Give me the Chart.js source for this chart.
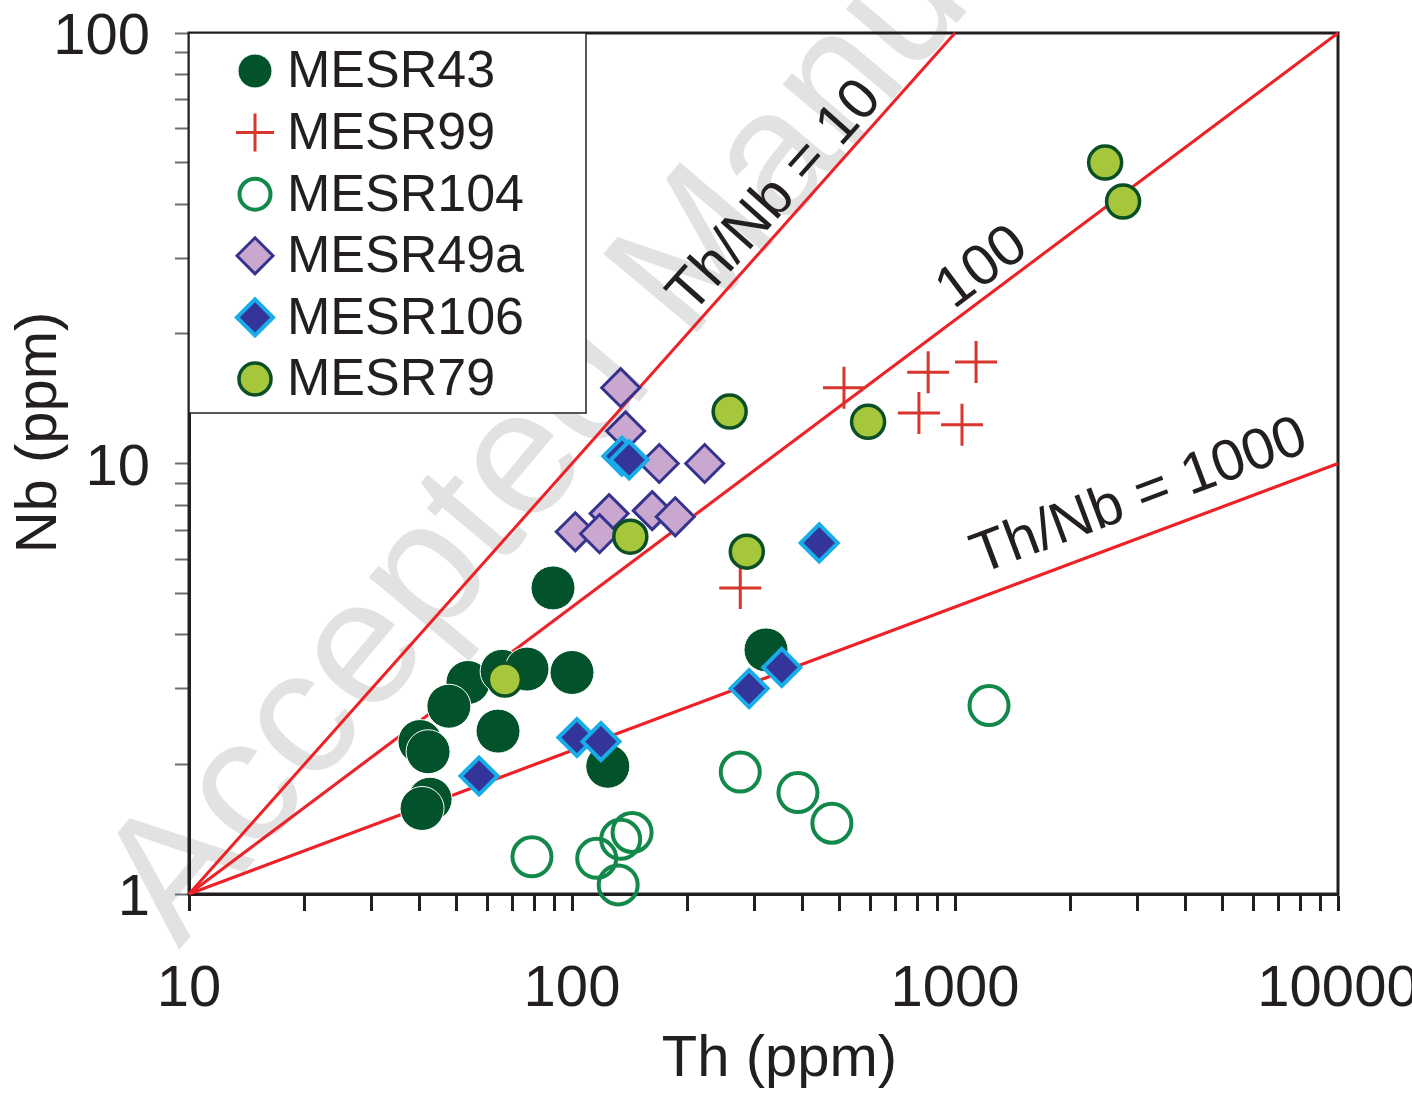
<!DOCTYPE html>
<html>
<head>
<meta charset="utf-8">
<title>Th vs Nb</title>
<script src="https://cdn.jsdelivr.net/npm/chart.js@4.4.1/dist/chart.umd.min.js"></script>
<style>
  html, body { margin: 0; padding: 0; background: #fff; }
  #wrap { width: 1412px; height: 1094px; }
</style>
</head>
<body>
<div id="wrap"><canvas id="thNbChart" width="1412" height="1094"></canvas></div>
<script>
// values: Th (ppm) and Nb (ppm)
const mesr43Th = [89.2, 53.5, 65.7, 76.3, 100, 47.7, 40.1, 42.1, 64.1, 42.6, 40.6, 124, 321];
const mesr43Nb = [5.14, 3.10, 3.29, 3.33, 3.27, 2.73, 2.26, 2.14, 2.39, 1.66, 1.58, 1.98, 3.69];

const mesr99Th = [513, 851, 1135, 805, 1043, 275];
const mesr99Nb = [15.0, 16.3, 17.2, 13.1, 12.3, 5.14];

const mesr104Th = [1227, 275, 389, 477, 78.6, 116, 134, 143.5, 132];
const mesr104Nb = [2.74, 1.92, 1.72, 1.46, 1.22, 1.21, 1.34, 1.39, 1.05];

const mesr49aTh = [134, 138, 169, 222, 102, 125, 118, 162, 186];
const mesr49aNb = [15.0, 11.9, 10.0, 10.0, 6.94, 7.65, 6.87, 7.77, 7.52];

const mesr106Th = [135, 141, 57.2, 103, 119, 290, 353, 442];
const mesr106Nb = [10.4, 10.2, 1.88, 2.31, 2.26, 3.00, 3.36, 6.54];

const mesr79Th = [258, 142, 286, 593, 66.8, 2466, 2747];
const mesr79Nb = [13.2, 6.76, 6.24, 12.5, 3.15, 50.0, 40.6];

// reference lines (end points)
const ratio10Th = [10, 1000];
const ratio10Nb = [1, 100];
const ratio100Th = [10, 10000];
const ratio100Nb = [1, 100];
const ratio1000Th = [10, 10000];
const ratio1000Nb = [1, 10];
const ratioLabels = ["Th/Nb = 10", "100", "Th/Nb = 1000"];

// axis ticks
const xTickValues = [10, 20, 30, 40, 50, 60, 70, 80, 90, 100, 200, 300, 400, 500, 600, 700, 800, 900,
  1000, 2000, 3000, 4000, 5000, 6000, 7000, 8000, 9000, 10000];
const xTickLabels = [10, 100, 1000, 10000];
const yTickValues = [1, 2, 3, 4, 5, 6, 7, 8, 9, 10, 20, 30, 40, 50, 60, 70, 80, 90, 100];
const yTickLabels = [1, 10, 100];
const xTitle = "Th (ppm)";
const yTitle = "Nb (ppm)";

const FONT = '"Liberation Sans", Arial, Helvetica, sans-serif';
const INK = "#231f20";
const LINE_RED = "#ee2127";

function toPoints(xs, ys) {
  return xs.map((x, i) => ({ x: x, y: ys[i] }));
}
function isLabelled(list, v) {
  return list.some((l) => Math.abs(l - v) < 1e-9);
}

function lineSet(xs, ys) {
  return {
    type: "line",
    data: toPoints(xs, ys),
    borderColor: LINE_RED,
    borderWidth: 3,
    pointRadius: 0,
    fill: false,
    order: 10,
    isRefLine: true,
  };
}

const datasets = [
  lineSet(ratio10Th, ratio10Nb),
  lineSet(ratio100Th, ratio100Nb),
  lineSet(ratio1000Th, ratio1000Nb),
  {
    label: "MESR43",
    data: toPoints(mesr43Th, mesr43Nb),
    pointStyle: "circle",
    radius: 22,
    backgroundColor: "#02532c",
    borderColor: "#ffffff",
    borderWidth: 1,
    legendRadius: 17,
    order: 6,
  },
  {
    label: "MESR99",
    data: toPoints(mesr99Th, mesr99Nb),
    pointStyle: "cross",
    radius: 21,
    backgroundColor: "rgba(0,0,0,0)",
    borderColor: "#d8352c",
    borderWidth: 3,
    legendRadius: 19,
    order: 4,
  },
  {
    label: "MESR104",
    data: toPoints(mesr104Th, mesr104Nb),
    pointStyle: "circle",
    radius: 19.5,
    backgroundColor: "rgba(0,0,0,0)",
    borderColor: "#12894a",
    borderWidth: 4,
    legendRadius: 15.5,
    order: 5,
  },
  {
    label: "MESR49a",
    data: toPoints(mesr49aTh, mesr49aNb),
    pointStyle: "rectRot",
    radius: 19,
    backgroundColor: "#c9a7cf",
    borderColor: "#34338f",
    borderWidth: 3,
    legendRadius: 18,
    order: 3,
  },
  {
    label: "MESR106",
    data: toPoints(mesr106Th, mesr106Nb),
    pointStyle: "rectRot",
    radius: 18.5,
    backgroundColor: "#33359a",
    borderColor: "#18ade8",
    borderWidth: 4,
    legendRadius: 18,
    order: 2,
  },
  {
    label: "MESR79",
    data: toPoints(mesr79Th, mesr79Nb),
    pointStyle: "circle",
    radius: 16.5,
    backgroundColor: "#a6c73c",
    borderColor: "#0b4f26",
    borderWidth: 3.5,
    legendRadius: 16,
    order: 1,
  },
];

// marker helper (falls back to a plain drawing if helpers are missing)
function drawMarker(ctx, ds, x, y, r) {
  ctx.save();
  ctx.fillStyle = ds.backgroundColor;
  ctx.strokeStyle = ds.borderColor;
  ctx.lineWidth = ds.borderWidth;
  if (Chart.helpers && Chart.helpers.drawPoint) {
    Chart.helpers.drawPoint(ctx, { pointStyle: ds.pointStyle, rotation: 0, radius: r, borderWidth: ds.borderWidth }, x, y);
  } else {
    ctx.beginPath();
    ctx.arc(x, y, r, 0, Math.PI * 2);
    ctx.fill();
    ctx.stroke();
  }
  ctx.restore();
}

// grey watermark behind everything
const watermarkPlugin = {
  id: "watermark",
  beforeDraw(chart) {
    const { ctx, chartArea } = chart;
    ctx.save();
    ctx.translate(chartArea.left - 10, chartArea.bottom + 56);
    ctx.rotate((-50 * Math.PI) / 180);
    ctx.font = "178px " + FONT;
    ctx.fillStyle = "#e2e2e2";
    ctx.textBaseline = "alphabetic";
    ctx.fillText("Accepted Manuscript", 0, 0);
    ctx.restore();
  },
};

// box around the plot (top and right sides) + axis titles
const framePlugin = {
  id: "frame",
  beforeDatasetsDraw(chart) {
    const { ctx, chartArea } = chart;
    ctx.save();
    ctx.strokeStyle = INK;
    ctx.lineWidth = 3;
    ctx.strokeRect(chartArea.left, chartArea.top, chartArea.right - chartArea.left, chartArea.bottom - chartArea.top);

    ctx.fillStyle = INK;
    ctx.font = "58px " + FONT;
    ctx.textAlign = "center";
    ctx.textBaseline = "middle";
    // x title sits a little right of centre in the original
    ctx.fillText(xTitle, (chartArea.left + chartArea.right) / 2 + 16, chartArea.bottom + 166);
    ctx.translate(40, (chartArea.top + chartArea.bottom) / 2 - 31);
    ctx.rotate(-Math.PI / 2);
    ctx.fillText(yTitle, 0, 0);
    ctx.restore();
  },
};

// labels written along the reference lines
const ratioLabelPlugin = {
  id: "ratioLabels",
  afterDatasetsDraw(chart, args, opts) {
    const { ctx } = chart;
    const xs = chart.scales.x;
    const ys = chart.scales.y;
    const lines = [
      [ratio10Th, ratio10Nb],
      [ratio100Th, ratio100Nb],
      [ratio1000Th, ratio1000Nb],
    ];
    ctx.save();
    ctx.font = "58px " + FONT;
    ctx.fillStyle = INK;
    ctx.textAlign = "left";
    ctx.textBaseline = "alphabetic";
    lines.forEach((ln, i) => {
      const x0 = xs.getPixelForValue(ln[0][0]);
      const y0 = ys.getPixelForValue(ln[1][0]);
      const x1 = xs.getPixelForValue(ln[0][1]);
      const y1 = ys.getPixelForValue(ln[1][1]);
      const ang = Math.atan2(y1 - y0, x1 - x0);
      // position along the line, as a fraction of its length
      const t = opts.at[i];
      const px = x0 + (x1 - x0) * t;
      const py = y0 + (y1 - y0) * t;
      ctx.save();
      ctx.translate(px, py);
      ctx.rotate(ang);
      ctx.fillText(ratioLabels[i], 0, -opts.gap[i]);
      ctx.restore();
    });
    ctx.restore();
  },
};

// legend box in the top-left corner of the plot
const boxLegendPlugin = {
  id: "boxLegend",
  afterDraw(chart) {
    const { ctx, chartArea } = chart;
    const left = chartArea.left;
    const top = chartArea.top;
    ctx.save();
    ctx.fillStyle = "#ffffff";
    ctx.fillRect(left, top, 397, 380);
    ctx.strokeStyle = INK;
    ctx.lineWidth = 1.5;
    ctx.strokeRect(left, top, 397, 380);
    ctx.font = "52px " + FONT;
    ctx.textBaseline = "middle";
    ctx.textAlign = "left";
    const items = chart.data.datasets.filter((d) => !d.isRefLine);
    items.forEach((ds, i) => {
      const y = top + 38 + i * 61.6;
      drawMarker(ctx, ds, left + 66, y, ds.legendRadius);
      ctx.fillStyle = INK;
      ctx.fillText(ds.label, left + 98, y + 2);
    });
    ctx.restore();
  },
};

new Chart(document.getElementById("thNbChart"), {
  type: "scatter",
  data: { datasets: datasets },
  plugins: [watermarkPlugin, framePlugin, ratioLabelPlugin, boxLegendPlugin],
  options: {
    responsive: false,
    animation: false,
    clip: false,
    layout: { padding: { top: 33, right: 74, left: 0, bottom: 0 } },
    plugins: {
      legend: { display: false },
      tooltip: { enabled: false },
      ratioLabels: { at: [0.665, 0.67, 0.695], gap: [9, 9, 22] },
    },
    scales: {
      x: {
        type: "logarithmic",
        position: "bottom",
        min: 10,
        max: 10000,
        afterBuildTicks: (axis) => {
          axis.ticks = xTickValues.map((v) => ({ value: v }));
        },
        afterFit: (axis) => {
          axis.height = 200;
          axis.paddingLeft = 0;
          axis.paddingRight = 0;
        },
        ticks: {
          autoSkip: false,
          maxRotation: 0,
          minRotation: 0,
          padding: 44,
          color: INK,
          font: { family: FONT, size: 58 },
          callback: (v) => (isLabelled(xTickLabels, v) ? String(v) : ""),
        },
        grid: { drawOnChartArea: false, drawTicks: true, tickLength: 17, tickColor: INK, tickWidth: 3 },
        border: { display: true, color: INK, width: 3 },
        title: { display: false },
      },
      y: {
        type: "logarithmic",
        position: "left",
        min: 1,
        max: 100,
        afterBuildTicks: (axis) => {
          axis.ticks = yTickValues.map((v) => ({ value: v }));
        },
        afterFit: (axis) => {
          axis.width = 189;
          axis.paddingTop = 0;
          axis.paddingBottom = 0;
        },
        ticks: {
          autoSkip: false,
          padding: 25,
          labelOffset: 5,
          color: INK,
          font: { family: FONT, size: 58 },
          callback: (v) => (isLabelled(yTickLabels, v) ? String(v) : ""),
        },
        grid: { drawOnChartArea: false, drawTicks: true, tickLength: 14, tickColor: "#6d6e71", tickWidth: 2 },
        border: { display: true, color: INK, width: 3 },
        title: { display: false },
      },
    },
  },
});
</script>
</body>
</html>
